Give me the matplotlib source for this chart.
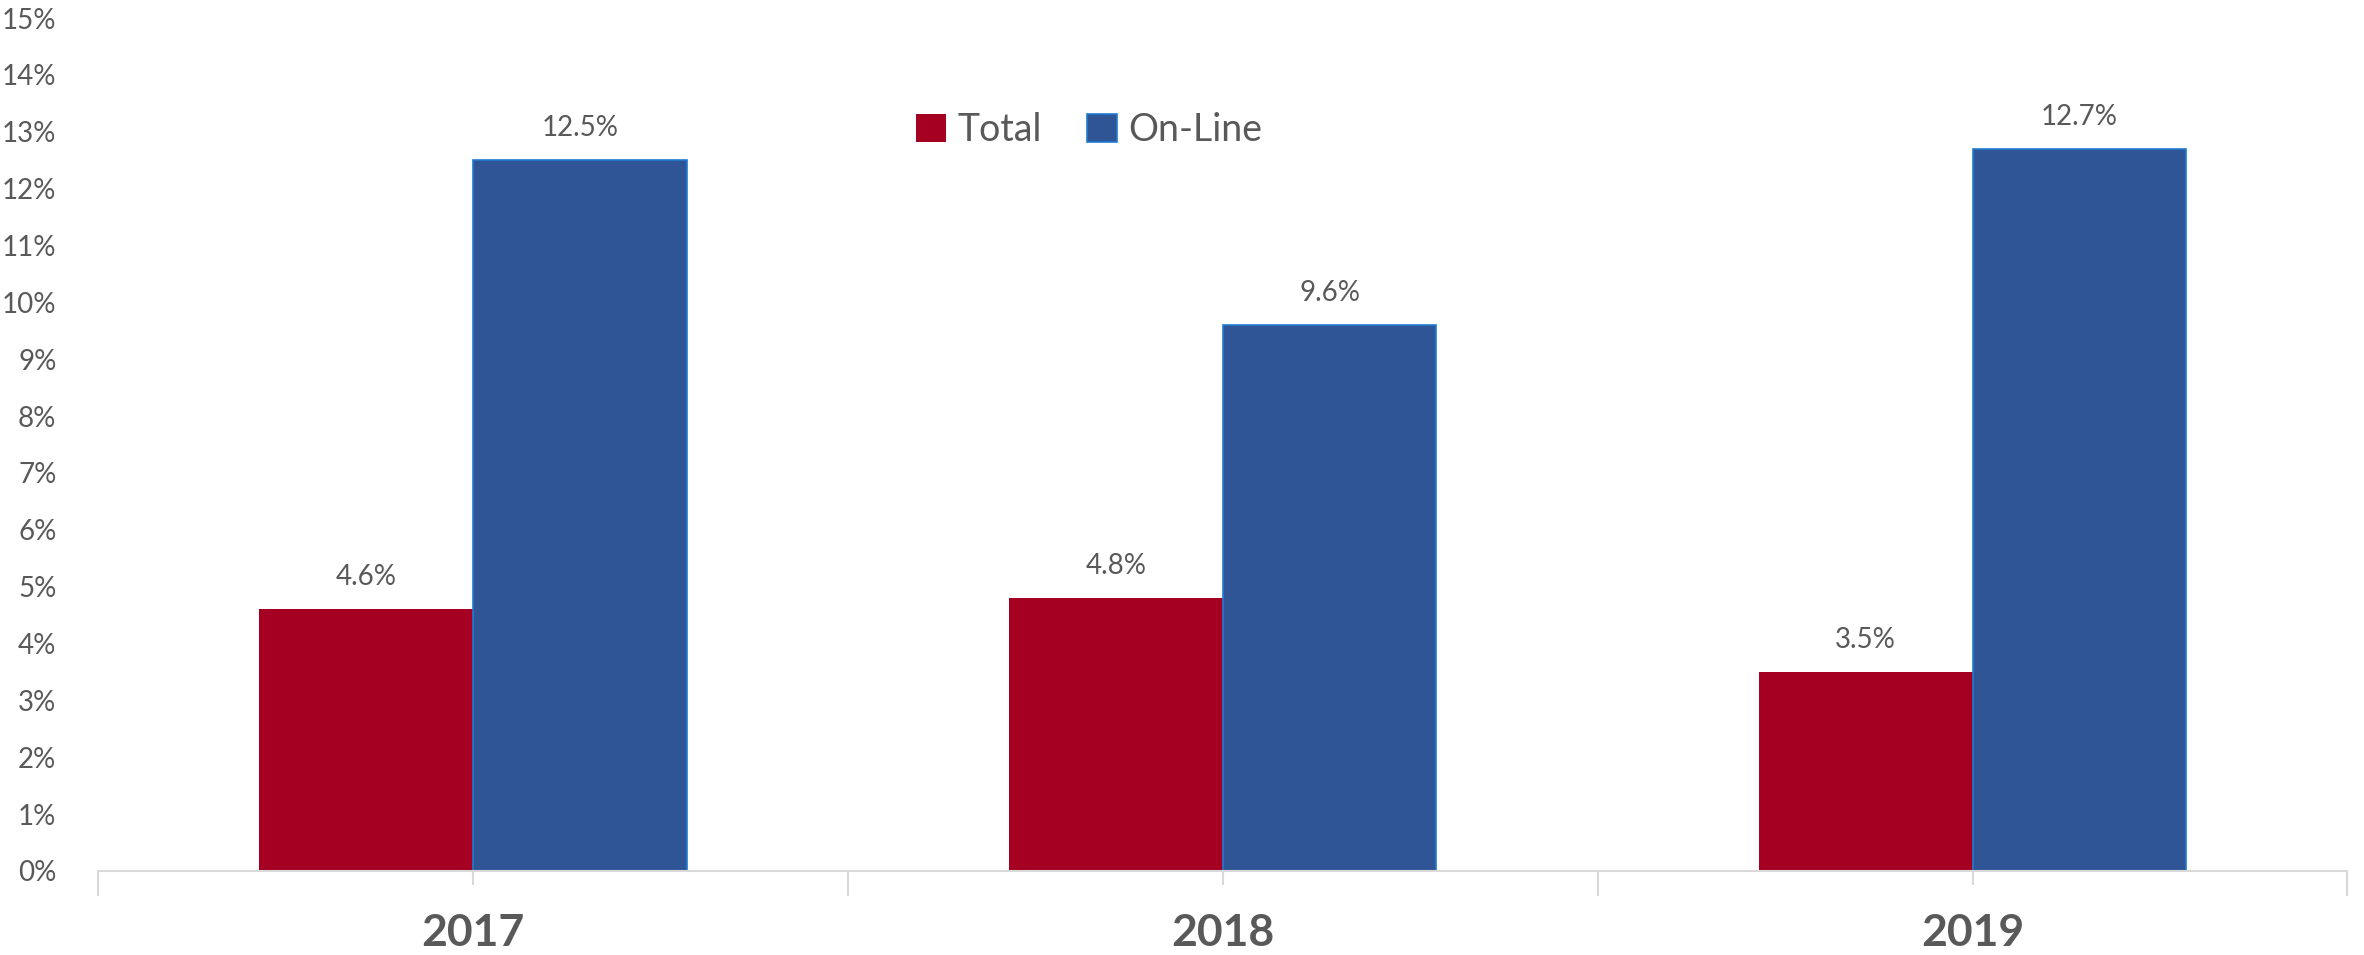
import matplotlib
matplotlib.use("Agg")
import matplotlib.pyplot as plt
from matplotlib.ticker import FixedLocator, PercentFormatter
import numpy as np

# --- data ---
years = ["2017", "2018", "2019"]
total = [4.6, 4.8, 3.5]
online = [12.5, 9.6, 12.7]
y_ticks = list(range(0, 16))

RED = "#A50021"
BLUE = "#2F5597"
BLUE_EDGE = "#1F7BD1"
TEXT = "#595959"
AXIS = "#D9D9D9"

plt.rcParams["font.family"] = ["Lato", "DejaVu Sans"]

fig = plt.figure(figsize=(23.64, 9.55), dpi=100)
ax = fig.add_axes([0.0415, 0.088, 0.9515, 0.893])

x = np.arange(len(years))
w = 0.285
b1 = ax.bar(x - w / 2, total, w, color=RED, label="Total", zorder=2)
b2 = ax.bar(x + w / 2, online, w, color=BLUE, edgecolor=BLUE_EDGE,
            linewidth=1.2, label="On-Line", zorder=2)

# value labels above each bar
for bars, vals in ((b1, total), (b2, online)):
    for rect, v in zip(bars, vals):
        ax.annotate(f"{v:.1f}%", (rect.get_x() + rect.get_width() / 2, v),
                    xytext=(0, 19), textcoords="offset pixels",
                    ha="center", va="bottom", fontsize=20, color=TEXT)

ax.set_xlim(-0.5, len(years) - 0.5)
ax.set_ylim(0, 15)
ax.yaxis.set_major_locator(FixedLocator(y_ticks))
ax.yaxis.set_major_formatter(PercentFormatter(decimals=0))
ax.tick_params(axis="y", length=0, pad=30, labelsize=20, labelcolor=TEXT)

# category labels, long ticks between categories, short ticks at centres
ax.set_xticks(x)
ax.set_xticklabels(years, fontsize=32, fontweight="bold", color=TEXT)
ax.set_xticks(np.arange(-0.5, len(years)), minor=True)
ax.tick_params(axis="x", which="major", length=10, width=1.5, color=AXIS, pad=20)
ax.tick_params(axis="x", which="minor", length=18, width=1.5, color=AXIS)

for s in ("top", "right", "left"):
    ax.spines[s].set_visible(False)
ax.spines["bottom"].set_color(AXIS)
ax.spines["bottom"].set_linewidth(1.5)
ax.spines["bottom"].set_zorder(3)

leg = ax.legend(loc="center", bbox_to_anchor=(1089 / 2364, 1 - 130 / 955),
                bbox_transform=fig.transFigure, ncol=2, frameon=False,
                fontsize=27, handlelength=0.8, handleheight=0.8,
                handletextpad=0.3, columnspacing=1.2)
for t in leg.get_texts():
    t.set_color(TEXT)

fig.savefig("out.png", dpi=100, facecolor="white")
